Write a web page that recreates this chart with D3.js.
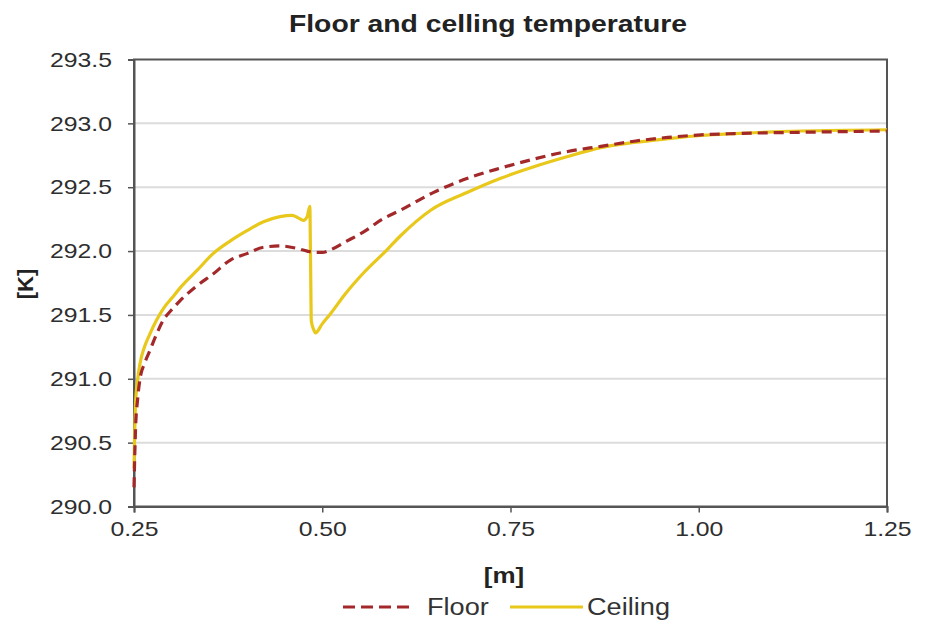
<!DOCTYPE html>
<html>
<head>
<meta charset="utf-8">
<script src="https://cdn.jsdelivr.net/npm/d3@7"></script>
<style>
  html, body { margin: 0; padding: 0; background: #fff; }
  svg { display: block; font-family: "Liberation Sans", Arial, sans-serif; }
</style>
</head>
<body>
<svg id="chart" width="936" height="629"></svg>
<script>
// Position along the surface [m]
const floorX = [0.250, 0.252, 0.255, 0.258, 0.264, 0.271, 0.280, 0.289, 0.300, 0.311, 0.334, 0.355, 0.378, 0.400, 0.422, 0.444, 0.467, 0.480, 0.490, 0.500, 0.511, 0.530, 0.555, 0.580, 0.604, 0.648, 0.693, 0.737, 0.781, 0.826, 0.870, 0.914, 0.959, 1.003, 1.047, 1.136, 1.250];
// Floor temperature [K]
const floorT = [290.15, 290.60, 290.85, 291.00, 291.12, 291.22, 291.35, 291.46, 291.54, 291.61, 291.73, 291.82, 291.93, 291.98, 292.03, 292.04, 292.02, 292.00, 291.99, 291.99, 292.01, 292.07, 292.15, 292.25, 292.32, 292.46, 292.57, 292.65, 292.72, 292.78, 292.82, 292.86, 292.89, 292.91, 292.92, 292.93, 292.94];

const ceilingX = [0.250, 0.252, 0.255, 0.258, 0.264, 0.271, 0.280, 0.289, 0.300, 0.311, 0.334, 0.355, 0.378, 0.400, 0.422, 0.444, 0.460, 0.468, 0.475, 0.480, 0.4835, 0.4845, 0.4855, 0.489, 0.491, 0.500, 0.511, 0.530, 0.555, 0.586, 0.604, 0.644, 0.693, 0.737, 0.781, 0.826, 0.870, 0.914, 0.959, 1.003, 1.047, 1.136, 1.250];
// Ceiling temperature [K]
const ceilingT = [290.30, 290.80, 291.00, 291.12, 291.25, 291.35, 291.46, 291.55, 291.63, 291.71, 291.85, 291.98, 292.08, 292.16, 292.23, 292.27, 292.28, 292.26, 292.24, 292.27, 292.35, 291.90, 291.45, 291.38, 291.36, 291.43, 291.51, 291.66, 291.83, 292.01, 292.12, 292.32, 292.46, 292.57, 292.66, 292.74, 292.81, 292.85, 292.88, 292.905, 292.92, 292.94, 292.95];

const xTicks = [0.25, 0.50, 0.75, 1.00, 1.25];
const yTicks = [290.0, 290.5, 291.0, 291.5, 292.0, 292.5, 293.0, 293.5];

const title = "Floor and celling temperature";
const xTitle = "[m]";
const yTitle = "[K]";
const seriesNames = ["Floor", "Ceiling"];
const seriesColors = ["#a3282a", "#e9c81c"];

// Text in this chart is set slightly wide
const textStretch = 1.18;

const svg = d3.select("#chart");
const plot = { left: 134, right: 887, top: 59.5, bottom: 506.5 };

const x = d3.scaleLinear().domain([0.25, 1.25]).range([plot.left, plot.right]);
const y = d3.scaleLinear().domain([290.0, 293.5]).range([plot.bottom, plot.top]);

// Horizontal gridlines
svg.append("g")
  .selectAll("line")
  .data(yTicks.slice(1, -1))
  .join("line")
  .attr("x1", plot.left).attr("x2", plot.right)
  .attr("y1", d => y(d)).attr("y2", d => y(d))
  .attr("stroke", "#dcdcdc").attr("stroke-width", 2);

// Plot frame
svg.append("rect")
  .attr("x", plot.left).attr("y", plot.top)
  .attr("width", plot.right - plot.left).attr("height", plot.bottom - plot.top)
  .attr("fill", "none").attr("stroke", "#555").attr("stroke-width", 2);

// Axes
const xAxis = svg.append("g")
  .attr("transform", `translate(0,${plot.bottom})`)
  .call(d3.axisBottom(x).tickValues(xTicks).tickFormat(d3.format(".2f")).tickSize(6).tickPadding(9));
const yAxis = svg.append("g")
  .attr("transform", `translate(${plot.left},0)`)
  .call(d3.axisLeft(y).tickValues(yTicks).tickFormat(d3.format(".1f")).tickSize(6).tickPadding(16));

[xAxis, yAxis].forEach(a => {
  a.select(".domain").attr("stroke", "#555").attr("stroke-width", 2);
  a.selectAll(".tick line").attr("stroke", "#555").attr("stroke-width", 1.5);
  a.selectAll(".tick text")
    .attr("fill", "#2e2e2e")
    .style("font-size", "21px")
    .style("font-family", "'Liberation Sans', Arial, sans-serif");
});

// Curves
const line = d3.line()
  .x(d => x(d[0]))
  .y(d => y(d[1]))
  .curve(d3.curveMonotoneX);

const ceilingData = ceilingX.map((v, i) => [v, ceilingT[i]]);
const floorData = floorX.map((v, i) => [v, floorT[i]]);

svg.append("path")
  .datum(ceilingData)
  .attr("d", line)
  .attr("fill", "none")
  .attr("stroke", seriesColors[1])
  .attr("stroke-width", 3.2)
  .attr("stroke-linejoin", "round");

svg.append("path")
  .datum(floorData)
  .attr("d", line)
  .attr("fill", "none")
  .attr("stroke", seriesColors[0])
  .attr("stroke-width", 3.2)
  .attr("stroke-dasharray", "10,6");

// Titles
svg.append("text")
  .attr("x", 488).attr("y", 32)
  .attr("text-anchor", "middle")
  .attr("font-size", 24).attr("font-weight", "bold").attr("fill", "#222")
  .text(title);

svg.append("text")
  .attr("x", 504).attr("y", 583)
  .attr("text-anchor", "middle")
  .attr("font-size", 22).attr("font-weight", "bold").attr("fill", "#222")
  .text(xTitle);

svg.append("text")
  .attr("class", "vertical")
  .attr("transform", "translate(33,284) rotate(-90)")
  .attr("text-anchor", "middle")
  .attr("font-size", 22).attr("font-weight", "bold").attr("fill", "#222")
  .text(yTitle);

// Legend
const legend = svg.append("g");
legend.append("line")
  .attr("x1", 343).attr("x2", 413).attr("y1", 607).attr("y2", 607)
  .attr("stroke", seriesColors[0]).attr("stroke-width", 3.2).attr("stroke-dasharray", "12,6");
legend.append("text")
  .attr("x", 427).attr("y", 615)
  .attr("font-size", 23).attr("fill", "#333")
  .text(seriesNames[0]);
legend.append("line")
  .attr("x1", 510).attr("x2", 583).attr("y1", 607).attr("y2", 607)
  .attr("stroke", seriesColors[1]).attr("stroke-width", 3.2);
legend.append("text")
  .attr("x", 587).attr("y", 615)
  .attr("font-size", 23).attr("fill", "#333")
  .text(seriesNames[1]);

// Widen horizontal text
svg.selectAll("text").filter(function () { return !this.classList.contains("vertical"); })
  .each(function () {
    const len = this.getComputedTextLength();
    d3.select(this)
      .attr("textLength", len * textStretch)
      .attr("lengthAdjust", "spacingAndGlyphs");
  });
</script>
</body>
</html>
